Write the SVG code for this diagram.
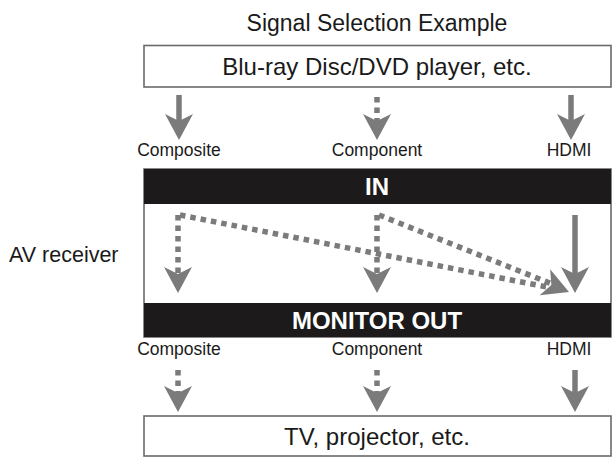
<svg xmlns="http://www.w3.org/2000/svg" width="615" height="460" viewBox="0 0 615 460">
<style>
text{font-family:"Liberation Sans",Arial,sans-serif;fill:#1a1a1a}
.box{fill:#fff;stroke:#6a6a6a;stroke-width:1.6}
.big{font-size:24px;text-anchor:middle}
.lbl{font-size:17.5px;text-anchor:middle}
.bar{fill:#1c1a1b}
.bt{font-size:24px;font-weight:bold;fill:#fff;text-anchor:middle}
.sol{stroke:#7b7b7b;stroke-width:5.5;fill:none}
.dot{stroke:#7b7b7b;stroke-width:5.5;fill:none;stroke-dasharray:5.5 5}
.hd{fill:#7b7b7b}
</style>
<defs>
<path id="head" d="M0,0 L-26,-14 L-19,0 L-26,14 Z" class="hd"/>
</defs>
<text x="377" y="31" style="font-size:23px;text-anchor:middle">Signal Selection Example</text>
<g id="source">
<rect class="box" x="144" y="45.5" width="467" height="41.5"/>
<text class="big" x="377" y="75">Blu-ray Disc/DVD player, etc.</text>
</g>
<g id="input-labels">
<text class="lbl" x="179" y="156">Composite</text>
<text class="lbl" x="377" y="156">Component</text>
<text class="lbl" x="569" y="156">HDMI</text>
</g>
<g id="receiver">
<text x="9" y="262" style="font-size:21.5px">AV receiver</text>
<rect class="box" x="144" y="169" width="467" height="168"/>
<rect class="bar" x="144" y="169" width="467" height="35"/>
<text class="bt" x="377" y="195">IN</text>
<rect class="bar" x="144" y="303" width="467" height="34"/>
<text class="bt" x="377" y="329">MONITOR OUT</text>
</g>
<g id="output-labels">
<text class="lbl" x="179" y="355">Composite</text>
<text class="lbl" x="377" y="355">Component</text>
<text class="lbl" x="569" y="355">HDMI</text>
</g>
<g id="sink">
<rect class="box" x="144" y="416" width="467" height="40"/>
<text class="big" x="377" y="445">TV, projector, etc.</text>
</g>
<g id="connectors">
<line class="sol" x1="179" y1="95" x2="179" y2="125"/>
<use href="#head" transform="translate(179,140) rotate(90)"/>
<line class="dot" x1="377" y1="97" x2="377" y2="125"/>
<use href="#head" transform="translate(377,140) rotate(90)"/>
<line class="sol" x1="571" y1="95" x2="571" y2="125"/>
<use href="#head" transform="translate(571,140) rotate(90)"/>

<line class="dot" x1="178" y1="215" x2="178" y2="278"/>
<use href="#head" transform="translate(178,293) rotate(90)"/>
<line class="dot" x1="377" y1="215" x2="377" y2="278"/>
<use href="#head" transform="translate(377,293) rotate(90)"/>
<line class="sol" x1="575" y1="215" x2="575" y2="278"/>
<use href="#head" transform="translate(575,293) rotate(90)"/>
<line class="dot" x1="180" y1="215" x2="552" y2="288"/>
<line class="dot" x1="379" y1="215" x2="552" y2="284"/>
<use href="#head" transform="translate(569,292) rotate(22)"/>

<line class="dot" x1="178" y1="370" x2="178" y2="398"/>
<use href="#head" transform="translate(178,412) rotate(90)"/>
<line class="dot" x1="377" y1="370" x2="377" y2="398"/>
<use href="#head" transform="translate(377,412) rotate(90)"/>
<line class="sol" x1="575" y1="370" x2="575" y2="398"/>
<use href="#head" transform="translate(575,412) rotate(90)"/>
</g>
</svg>
